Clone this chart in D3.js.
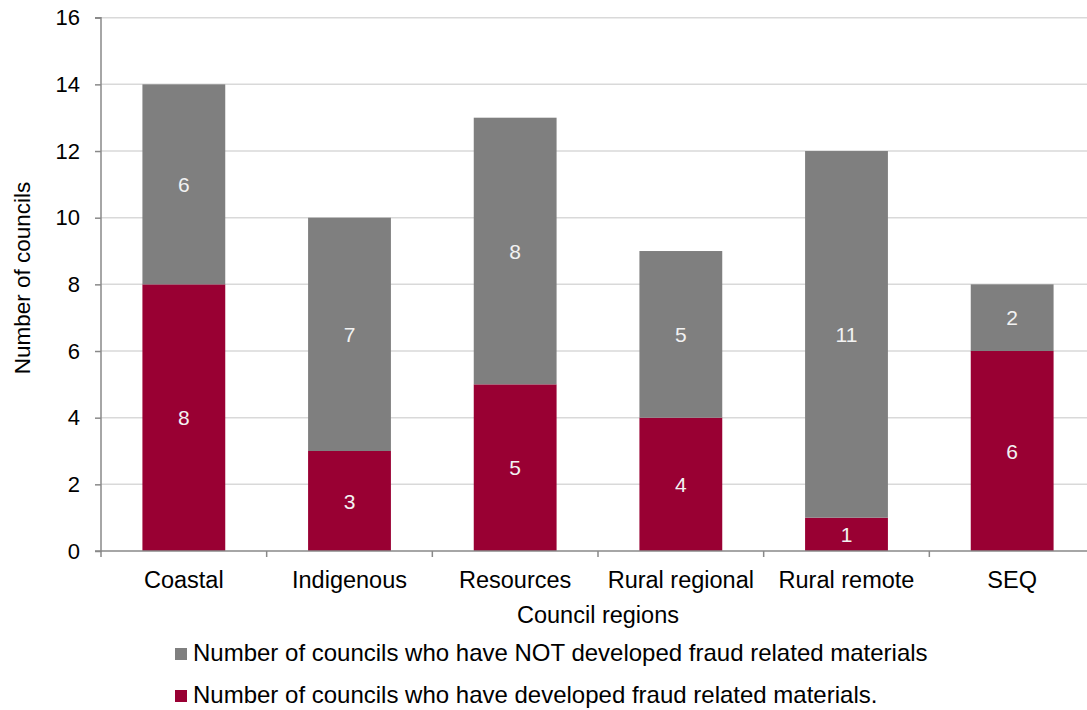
<!DOCTYPE html>
<html>
<head>
<meta charset="utf-8">
<script src="https://cdn.jsdelivr.net/npm/d3@7"></script>
<style>
  html, body { margin: 0; padding: 0; background: #ffffff; }
  svg { display: block; font-family: "Liberation Sans", Arial, sans-serif; }
</style>
</head>
<body>
<svg id="chart" width="1087" height="710"></svg>
<script>
// Council regions and counts of councils with / without fraud related materials
const regions = ["Coastal", "Indigenous", "Resources", "Rural regional", "Rural remote", "SEQ"];
const developed = [8, 3, 5, 4, 1, 6];
const notDeveloped = [6, 7, 8, 5, 11, 2];
const yTicks = [0, 2, 4, 6, 8, 10, 12, 14, 16];

const seriesNames = [
  "Number of councils who have developed fraud related materials.",
  "Number of councils who have NOT developed fraud related materials"
];
const seriesColors = ["#990033", "#7f7f7f"];

const svg = d3.select("#chart");
const plotLeft = 101, plotRight = 1095, plotTop = 17.7, plotBottom = 551;

const x = d3.scaleBand()
  .domain(regions)
  .range([plotLeft, plotRight])
  .paddingInner(0.5)
  .paddingOuter(0.25);

const y = d3.scaleLinear()
  .domain([0, 16])
  .range([plotBottom, plotTop]);

// Horizontal gridlines
svg.append("g")
  .selectAll("line")
  .data(yTicks.filter(d => d > 0))
  .join("line")
  .attr("x1", plotLeft)
  .attr("x2", plotRight)
  .attr("y1", d => y(d))
  .attr("y2", d => y(d))
  .attr("stroke", "#d9d9d9")
  .attr("stroke-width", 1.5);

// Stacked data
const table = regions.map((r, i) => ({ region: r, developed: developed[i], notDeveloped: notDeveloped[i] }));
const stack = d3.stack().keys(["developed", "notDeveloped"]);
const layers = stack(table);

const layerG = svg.append("g")
  .selectAll("g")
  .data(layers)
  .join("g")
  .attr("fill", (d, i) => seriesColors[i]);

layerG.selectAll("rect")
  .data(d => d)
  .join("rect")
  .attr("x", d => x(d.data.region))
  .attr("width", x.bandwidth())
  .attr("y", d => y(d[1]))
  .attr("height", d => y(d[0]) - y(d[1]));

// Segment value labels
layerG.selectAll("text")
  .data((d) => d.map(p => ({ p, key: d.key })))
  .join("text")
  .attr("x", d => x(d.p.data.region) + x.bandwidth() / 2)
  .attr("y", d => (y(d.p[0]) + y(d.p[1])) / 2)
  .attr("dy", "0.36em")
  .attr("text-anchor", "middle")
  .attr("fill", "#f2f2f2")
  .attr("font-size", 21)
  .text(d => d.p.data[d.key]);

// Y axis
const yAxis = svg.append("g")
  .attr("transform", `translate(${plotLeft},0)`)
  .call(d3.axisLeft(y).tickValues(yTicks).tickSize(6).tickPadding(15));
yAxis.selectAll("text").attr("font-size", 22).attr("fill", "#000").attr("font-family", "Liberation Sans, Arial, sans-serif");
yAxis.selectAll("line").attr("stroke", "#898989").attr("stroke-width", 1.5);
yAxis.select(".domain").attr("stroke", "#898989").attr("stroke-width", 1.5).attr("d", `M-6,${y(16)}H0V${y(0)}H-6`);

// X axis with boundary ticks between categories
const xAxisG = svg.append("g").attr("transform", `translate(0,${y(0)})`);
xAxisG.append("line")
  .attr("x1", plotLeft).attr("x2", plotRight)
  .attr("stroke", "#898989").attr("stroke-width", 1.5);
const step = x.step();
xAxisG.selectAll("line.tick")
  .data(d3.range(regions.length + 1))
  .join("line")
  .attr("class", "tick")
  .attr("x1", i => plotLeft + i * step)
  .attr("x2", i => plotLeft + i * step)
  .attr("y1", 0).attr("y2", 6)
  .attr("stroke", "#898989").attr("stroke-width", 1.5);
xAxisG.selectAll("text")
  .data(regions)
  .join("text")
  .attr("x", d => x(d) + x.bandwidth() / 2)
  .attr("y", 37)
  .attr("text-anchor", "middle")
  .attr("font-size", 23.5)
  .attr("fill", "#000")
  .text(d => d);

// Axis titles
svg.append("text")
  .attr("x", 598).attr("y", 623)
  .attr("text-anchor", "middle")
  .attr("font-size", 23.5)
  .text("Council regions");

svg.append("text")
  .attr("transform", `translate(30,278) rotate(-90)`)
  .attr("text-anchor", "middle")
  .attr("font-size", 22.5)
  .text("Number of councils");

// Legend: NOT developed listed first
const legendItems = [
  { name: seriesNames[1], color: seriesColors[1] },
  { name: seriesNames[0], color: seriesColors[0] }
];
const legend = svg.append("g")
  .selectAll("g")
  .data(legendItems)
  .join("g")
  .attr("transform", (d, i) => `translate(175,${648 + i * 42})`);
legend.append("rect")
  .attr("width", 12).attr("height", 12)
  .attr("fill", d => d.color);
legend.append("text")
  .attr("x", 18).attr("y", 13)
  .attr("font-size", 24)
  .attr("fill", "#000")
  .text(d => d.name);
</script>
</body>
</html>
